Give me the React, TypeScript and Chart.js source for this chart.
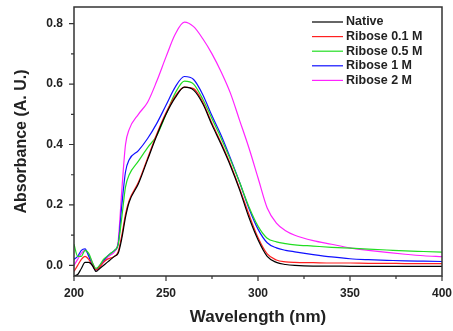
import React, { useEffect, useRef } from "react";
import { Chart, registerables } from "chart.js";

Chart.register(...registerables);

const wavelengths = [200, 202, 204, 206, 208, 210, 212, 214, 216, 218, 220, 222, 224, 226, 228, 230, 235, 240, 245, 250, 255, 260, 265, 270, 275, 280, 285, 290, 295, 300, 305, 310, 315, 320, 330, 340, 350, 360, 370, 380, 390, 400];

const seriesNames = ["Native", "Ribose 0.1 M", "Ribose 0.5 M", "Ribose 1 M", "Ribose 2 M"];
const seriesColors = ["#000000", "#ff2020", "#22dd22", "#1010ff", "#ff22ff"];

const native = [-0.035, -0.03, -0.01, 0.01, 0.01, 0.0, -0.02, -0.01, 0.0, 0.01, 0.02, 0.03, 0.04, 0.09, 0.16, 0.21, 0.27, 0.35, 0.43, 0.5, 0.555, 0.59, 0.58, 0.535, 0.465, 0.4, 0.33, 0.25, 0.16, 0.085, 0.03, 0.01, 0.003, 0.0, -0.002, -0.002, -0.003, -0.003, -0.003, -0.003, -0.003, -0.003];
const ribose01 = [-0.02, 0.0, 0.02, 0.03, 0.02, 0.0, -0.015, -0.005, 0.01, 0.02, 0.025, 0.03, 0.045, 0.1, 0.17, 0.215, 0.275, 0.355, 0.435, 0.505, 0.56, 0.59, 0.585, 0.54, 0.47, 0.405, 0.335, 0.255, 0.17, 0.092, 0.038, 0.018, 0.012, 0.01, 0.009, 0.008, 0.008, 0.007, 0.007, 0.006, 0.006, 0.006];
const ribose05 = [0.07, 0.03, 0.03, 0.05, 0.04, 0.01, -0.01, 0.0, 0.02, 0.03, 0.04, 0.05, 0.07, 0.16, 0.26, 0.3, 0.345, 0.39, 0.43, 0.5, 0.57, 0.61, 0.6, 0.55, 0.485, 0.42, 0.35, 0.275, 0.195, 0.13, 0.09, 0.078, 0.072, 0.068, 0.064, 0.06, 0.057, 0.054, 0.051, 0.048, 0.046, 0.044];
const ribose1 = [0.02, 0.03, 0.05, 0.055, 0.03, 0.0, -0.015, 0.0, 0.015, 0.03, 0.04, 0.05, 0.07, 0.2, 0.31, 0.35, 0.38, 0.42, 0.47, 0.53, 0.59, 0.625, 0.615, 0.565, 0.495, 0.43, 0.355, 0.275, 0.19, 0.12, 0.075, 0.058, 0.05, 0.045, 0.036, 0.028, 0.022, 0.019, 0.017, 0.015, 0.014, 0.013];
const ribose2 = [0.0, 0.02, 0.04, 0.05, 0.035, 0.01, -0.015, -0.005, 0.01, 0.025, 0.035, 0.045, 0.08, 0.25, 0.4, 0.45, 0.5, 0.54, 0.61, 0.69, 0.765, 0.805, 0.79, 0.75, 0.7, 0.64, 0.57, 0.48, 0.39, 0.29, 0.19, 0.14, 0.115, 0.1, 0.082, 0.07, 0.058, 0.05, 0.043, 0.037, 0.032, 0.029];

const allSeries = [native, ribose01, ribose05, ribose1, ribose2];

const xTicks = [200, 225, 250, 275, 300, 325, 350, 375, 400];
const xLabels = [200, 250, 300, 350, 400];
const yTicks = [0, 0.1, 0.2, 0.3, 0.4, 0.5, 0.6, 0.7, 0.8];
const yLabels = [0, 0.2, 0.4, 0.6, 0.8];

const FONT = "'Liberation Sans', Arial, sans-serif";

const decorPlugin = {
  id: "decor",
  afterDraw(chart: any) {
    const ctx = chart.ctx;
    const { left, right, top, bottom } = chart.chartArea;
    const xs = chart.scales.x;
    const ys = chart.scales.y;
    ctx.save();
    ctx.strokeStyle = "#333";
    ctx.lineWidth = 1.5;
    ctx.strokeRect(left, top, right - left, bottom - top);
    ctx.lineWidth = 1.2;
    ctx.beginPath();
    yTicks.forEach((v) => {
      const y = ys.getPixelForValue(v);
      const len = yLabels.some((l) => Math.abs(l - v) < 1e-9) ? 5 : 3;
      ctx.moveTo(left - len, y);
      ctx.lineTo(left, y);
    });
    xTicks.forEach((v) => {
      const x = xs.getPixelForValue(v);
      const len = xLabels.includes(v) ? 5 : 3;
      ctx.moveTo(x, bottom);
      ctx.lineTo(x, bottom + len);
    });
    ctx.stroke();

    // legend
    const lx0 = right - 130;
    const lx1 = right - 99;
    const ly0 = top + 15;
    const step = 14.6;
    ctx.font = `bold 12.5px ${FONT}`;
    ctx.textBaseline = "middle";
    ctx.textAlign = "left";
    chart.data.datasets.forEach((ds: any, i: number) => {
      const y = ly0 + i * step;
      ctx.strokeStyle = ds.borderColor;
      ctx.lineWidth = 1.2;
      ctx.beginPath();
      ctx.moveTo(lx0, y);
      ctx.lineTo(lx1, y);
      ctx.stroke();
      ctx.fillStyle = "#222";
      ctx.fillText(ds.label, lx1 + 3, y);
    });
    ctx.restore();
  },
};

export default function App() {
  const ref = useRef<HTMLCanvasElement | null>(null);
  useEffect(() => {
    if (!ref.current) return;
    const chart = new Chart(ref.current, {
      type: "line",
      data: {
        datasets: allSeries.map((s, i) => ({
          label: seriesNames[i],
          data: wavelengths.map((w, j) => ({ x: w, y: s[j] })),
          borderColor: seriesColors[i],
          borderWidth: 1.2,
          pointRadius: 0,
          fill: false,
          cubicInterpolationMode: "monotone" as const,
        })),
      },
      options: {
        animation: false,
        responsive: false,
        maintainAspectRatio: false,
        layout: { padding: { top: 7, right: 11, left: 0, bottom: 0 } },
        plugins: {
          legend: { display: false },
          tooltip: { enabled: false },
        },
        scales: {
          x: {
            type: "linear",
            min: 200,
            max: 400,
            afterBuildTicks: (scale: any) => {
              scale.ticks = xTicks.map((v) => ({ value: v }));
            },
            afterFit: (scale: any) => {
              scale.height = 55;
              scale.paddingLeft = 0;
              scale.paddingRight = 0;
            },
            grid: { display: false, drawTicks: false },
            border: { display: false },
            ticks: {
              padding: 10,
              autoSkip: false,
              maxRotation: 0,
              color: "#222",
              font: { family: FONT, size: 12, weight: "bold" },
              callback: (v: any) => (xLabels.includes(Number(v)) ? String(v) : ""),
            },
            title: {
              display: true,
              text: "Wavelength (nm)",
              color: "#222",
              font: { family: FONT, size: 17, weight: "bold" },
              padding: { top: 4, bottom: 3 },
            },
          },
          y: {
            type: "linear",
            min: -0.035,
            max: 0.855,
            afterBuildTicks: (scale: any) => {
              scale.ticks = yTicks.map((v) => ({ value: v }));
            },
            afterFit: (scale: any) => {
              scale.width = 74;
              scale.paddingTop = 0;
              scale.paddingBottom = 0;
            },
            grid: { display: false, drawTicks: false },
            border: { display: false },
            ticks: {
              padding: 11,
              autoSkip: false,
              color: "#222",
              font: { family: FONT, size: 12, weight: "bold" },
              callback: (v: any) => {
                const n = Number(v);
                return yLabels.some((l) => Math.abs(l - n) < 1e-9) ? n.toFixed(1) : "";
              },
            },
            title: {
              display: true,
              text: "Absorbance (A. U.)",
              color: "#222",
              font: { family: FONT, size: 16, weight: "bold" },
              padding: { top: 12, bottom: 4 },
            },
          },
        },
      },
      plugins: [decorPlugin],
    });
    return () => chart.destroy();
  }, []);
  return (
    <div style={{ position: "absolute", left: 0, top: 0, width: 453, height: 331, background: "#fff" }}>
      <canvas ref={ref} width={453} height={331} style={{ width: 453, height: 331 }} />
    </div>
  );
}
